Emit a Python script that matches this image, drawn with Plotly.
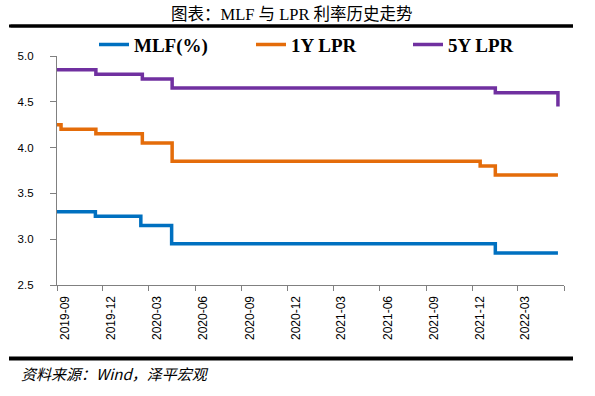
import plotly.graph_objects as go

# ---- data ----
mlf_dates = ["2019-09-01", "2019-11-16", "2020-02-14", "2020-04-15", "2022-01-16", "2022-05-20"]
mlf_vals = [3.30, 3.25, 3.15, 2.95, 2.85, 2.85]

lpr1_dates = ["2019-09-01", "2019-09-09", "2019-11-17", "2020-02-17", "2020-04-16",
              "2021-12-17", "2022-01-16", "2022-05-20"]
lpr1_vals = [4.25, 4.20, 4.15, 4.05, 3.85, 3.80, 3.70, 3.70]

lpr5_dates = ["2019-09-01", "2019-11-17", "2020-02-17", "2020-04-16", "2022-01-16", "2022-05-20"]
lpr5_vals = [4.85, 4.80, 4.75, 4.65, 4.60, 4.45]

tick_dates = ["2019-09-01", "2019-12-01", "2020-03-01", "2020-06-01", "2020-09-01", "2020-12-01",
              "2021-03-01", "2021-06-01", "2021-09-01", "2021-12-01", "2022-03-01", "2022-06-01"]
tick_labels = ["2019-09", "2019-12", "2020-03", "2020-06", "2020-09", "2020-12",
               "2021-03", "2021-06", "2021-09", "2021-12", "2022-03", ""]

series_names = ["MLF(%)", "1Y LPR", "5Y LPR"]
colors = ["#0070C0", "#E46C0A", "#7030A0"]

fig = go.Figure()
for name, xs, ys, c in zip(series_names,
                           [mlf_dates, lpr1_dates, lpr5_dates],
                           [mlf_vals, lpr1_vals, lpr5_vals], colors):
    fig.add_trace(go.Scatter(x=xs, y=ys, mode="lines", name=name,
                             line=dict(color=c, width=3.5, shape="hv")))

axis_gray = "#808080"
fig.update_layout(
    width=595, height=396,
    margin=dict(l=57, r=31, t=56, b=111, autoexpand=False),
    paper_bgcolor="white", plot_bgcolor="white",
    showlegend=True,
    legend=dict(orientation="h", x=(94 - 57) / 507, xanchor="left", y=1.05, yanchor="middle",
                font=dict(family="Liberation Serif", size=19, color="black", weight="bold"),
                entrywidth=112, entrywidthmode="pixels",
                bgcolor="rgba(0,0,0,0)", itemwidth=30),
    xaxis=dict(type="date", range=["2019-09-01", "2022-06-01"], automargin=False,
               tickmode="array", tickvals=tick_dates, ticktext=tick_labels,
               tickangle=-90, ticks="outside", ticklen=5, tickcolor=axis_gray,
               showline=True, linecolor=axis_gray, linewidth=1.3,
               showgrid=False, zeroline=False, ticklabelshift=8,
               tickfont=dict(family="Liberation Sans", size=12, color="black")),
    yaxis=dict(range=[2.5, 5.0], dtick=0.5, tickformat=".1f", automargin=False,
               ticks="outside", ticklen=6, tickcolor=axis_gray,
               showline=True, linecolor=axis_gray, linewidth=1.3,
               showgrid=False, zeroline=False, ticklabelstandoff=14,
               tickfont=dict(family="Liberation Sans", size=11.5, color="black")),
)

fig.add_annotation(text="图表：MLF 与 LPR 利率历史走势", xref="paper", yref="paper",
                   x=(292 - 57) / 507, y=1 + (56 - 15) / 228.7, xanchor="center", yanchor="middle",
                   showarrow=False,
                   font=dict(family="Liberation Serif, Noto Sans CJK SC", size=16.5, color="black"))
fig.add_annotation(text="资料来源：Wind，泽平宏观", xref="paper", yref="paper",
                   x=(19 - 57) / 507, y=1 - (373 - 56) / 228.7, xanchor="left", yanchor="middle",
                   showarrow=False,
                   font=dict(family="Noto Sans CJK SC", size=15, color="black", style="italic"))

rule_x0 = (9 - 57) / 507
rule_x1 = (573 - 57) / 507
for ypix, w in [(26, 3), (358, 4)]:
    yp = 1 - (ypix - 56) / 228.7
    fig.add_shape(type="line", xref="paper", yref="paper",
                  x0=rule_x0, x1=rule_x1, y0=yp, y1=yp,
                  line=dict(color="black", width=w))

# top rule also drawn as a headless annotation arrow (in the info layer)
top_y = 1 - (26 - 56) / 228.7
fig.add_annotation(text="", xref="paper", yref="paper",
                   x=rule_x1, y=top_y, ax=-(573 - 9), ay=0,
                   showarrow=True, arrowhead=0, arrowwidth=3, arrowcolor="black",
                   standoff=0, startstandoff=0)

fig.write_html("out.html", config={"displayModeBar": False},
               post_script="document.body.style.margin='0';")
